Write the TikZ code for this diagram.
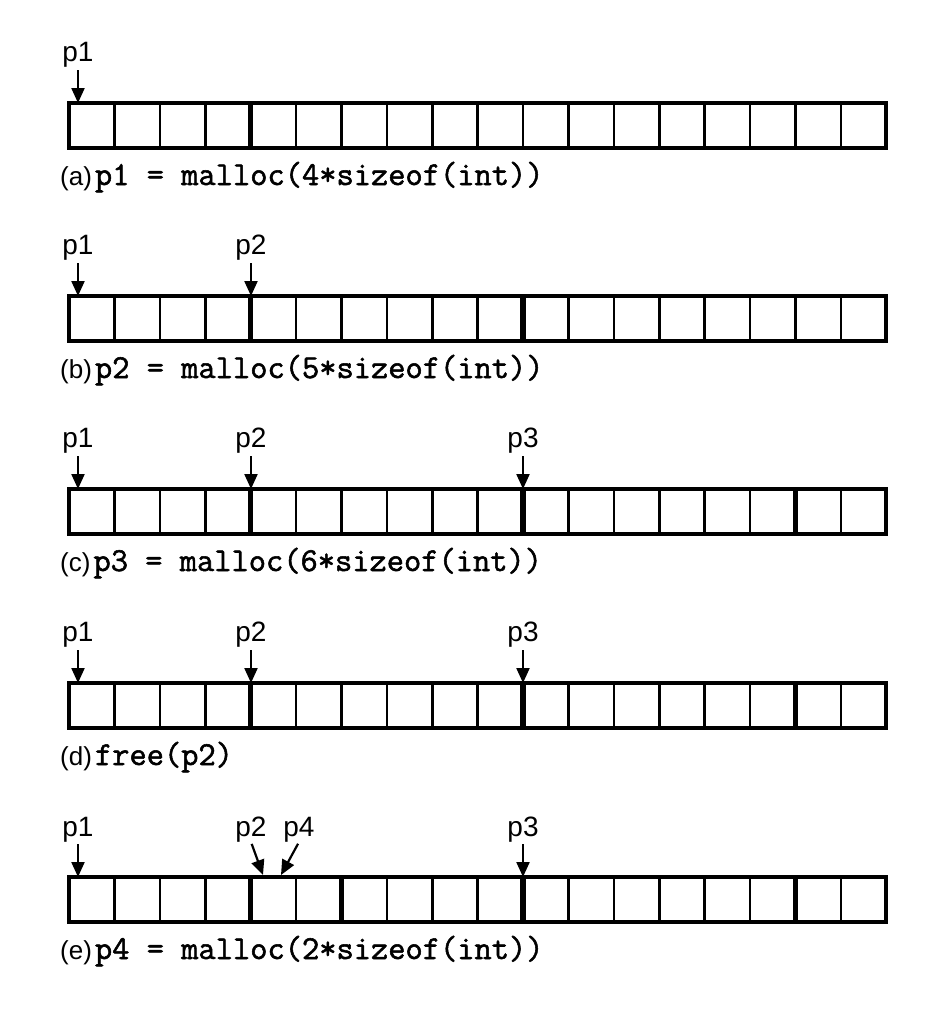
\documentclass[tikz,border=0pt]{standalone}
\usepackage{fontspec}
\newfontfamily\labfont{Liberation Sans}
\newfontfamily\codefont[FakeBold=1.6]{Latin Modern Mono}
\usetikzlibrary{arrows.meta}
\tikzset{
  lbl/.style={font=\labfont\fontsize{28}{28}\selectfont, inner sep=0pt, anchor=south},
  ptr/.style={line width=2.2pt, shorten <=2pt, -{Triangle[length=15pt,width=13pt]}},
  captionlbl/.style={anchor=base west, inner sep=0pt},
  cell/.style={draw, line width=2.6pt, minimum width=45.4pt, minimum height=45pt, inner sep=0pt, outer sep=0pt},
  sepline/.style={line width=5.5pt},
  outline/.style={line width=3.5pt},
}
\newcommand{\captext}[2]{{\labfont\fontsize{26}{26}\selectfont(#1)}\hspace{3pt}{\codefont\bfseries\fontsize{33.5}{33.5}\selectfont #2}}
\newcommand{\memcells}[2]{%
  \foreach \i in {1,...,18} \node[cell] (#1\i) at ({69+(\i-0.5)*45.4}, #2+22.5) {};
  \draw[outline] (#1\string1.north west) rectangle (#1\string18.south east);
}
\begin{document}
\begin{tikzpicture}[x=1pt,y=-1pt]
\useasboundingbox (0,0) rectangle (926,1010);

% (a)
\memcells{a}{103}
\foreach \j in {4} \draw[sepline] (a\j.north east) -- (a\j.south east);
\node[lbl] (a-p1) at (78,68) {p1};
\draw[ptr] (a-p1.south) -- (a-p1 |- a1.north);
\node[captionlbl] (a-cap) at (60,185) {\captext{a}{p1 = malloc(4*sizeof(int))}};

% (b)
\memcells{b}{296}
\foreach \j in {4,10} \draw[sepline] (b\j.north east) -- (b\j.south east);
\node[lbl] (b-p1) at (78,261) {p1};
\node[lbl] (b-p2) at (251,261) {p2};
\draw[ptr] (b-p1.south) -- (b-p1 |- b1.north);
\draw[ptr] (b-p2.south) -- (b-p2 |- b1.north);
\node[captionlbl] (b-cap) at (60,378) {\captext{b}{p2 = malloc(5*sizeof(int))}};

% (c)
\memcells{c}{489}
\foreach \j in {4,10,16} \draw[sepline] (c\j.north east) -- (c\j.south east);
\node[lbl] (c-p1) at (78,454) {p1};
\node[lbl] (c-p2) at (251,454) {p2};
\node[lbl] (c-p3) at (523,454) {p3};
\draw[ptr] (c-p1.south) -- (c-p1 |- c1.north);
\draw[ptr] (c-p2.south) -- (c-p2 |- c1.north);
\draw[ptr] (c-p3.south) -- (c-p3 |- c1.north);
\node[captionlbl] (c-cap) at (60,571) {\captext{c}{p3 = malloc(6*sizeof(int))}};

% (d)
\memcells{d}{683}
\foreach \j in {4,10,16} \draw[sepline] (d\j.north east) -- (d\j.south east);
\node[lbl] (d-p1) at (78,648) {p1};
\node[lbl] (d-p2) at (251,648) {p2};
\node[lbl] (d-p3) at (523,648) {p3};
\draw[ptr] (d-p1.south) -- (d-p1 |- d1.north);
\draw[ptr] (d-p2.south) -- (d-p2 |- d1.north);
\draw[ptr] (d-p3.south) -- (d-p3 |- d1.north);
\node[captionlbl] (d-cap) at (60,765) {\captext{d}{free(p2)}};

% (e)
\memcells{e}{877}
\foreach \j in {4,6,10,16} \draw[sepline] (e\j.north east) -- (e\j.south east);
\node[lbl] (e-p1) at (78,842) {p1};
\node[lbl] (e-p2) at (251,842) {p2};
\node[lbl] (e-p4) at (299,842) {p4};
\node[lbl] (e-p3) at (523,842) {p3};
\coordinate (e-t2) at (263,875);
\coordinate (e-t4) at (281,875);
\draw[ptr] (e-p1.south) -- (e-p1 |- e1.north);
\draw[ptr] (e-p2.south) -- (e-t2);
\draw[ptr] (e-p4.south) -- (e-t4);
\draw[ptr] (e-p3.south) -- (e-p3 |- e1.north);
\node[captionlbl] (e-cap) at (60,959) {\captext{e}{p4 = malloc(2*sizeof(int))}};
\end{tikzpicture}
\end{document}
